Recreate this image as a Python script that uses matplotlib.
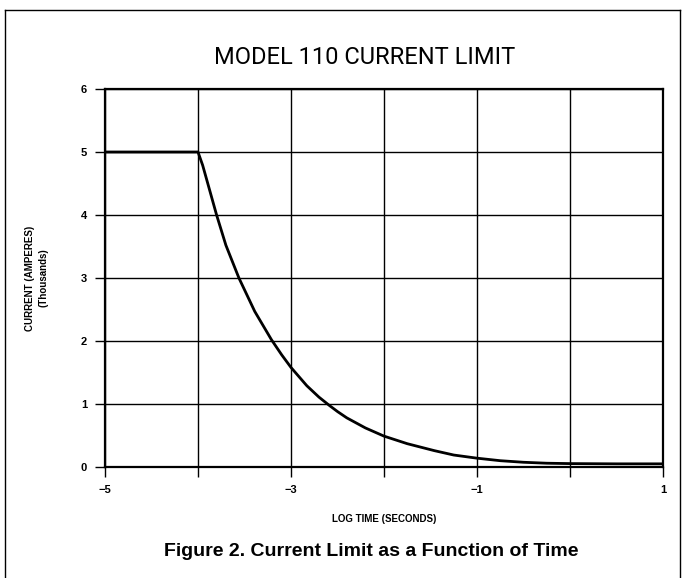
import matplotlib
matplotlib.use("Agg")
import matplotlib.pyplot as plt
from matplotlib.lines import Line2D

# Data (log10 time in seconds, current in thousands of amperes)
log_time = [-5, -4, -3.95, -3.91, -3.80, -3.70, -3.56, -3.39, -3.21, -3.1,
            -3.0, -2.83, -2.7, -2.59, -2.5, -2.40, -2.2, -2.0, -1.75,
            -1.46, -1.25, -1.0, -0.75, -0.5, -0.25, 0.0, 0.5, 1.0]
current_k = [5, 5, 4.79, 4.58, 4.0, 3.52, 3.0, 2.47, 2.02, 1.78,
             1.58, 1.29, 1.11, 0.98, 0.88, 0.78, 0.62, 0.49, 0.37,
             0.26, 0.19, 0.14, 0.10, 0.075, 0.06, 0.054, 0.05, 0.05]

x_ticks = [-5, -3, -1, 1]
x_grid = [-5, -4, -3, -2, -1, 0, 1]
y_ticks = [0, 1, 2, 3, 4, 5, 6]

W, H = 686, 578
fig = plt.figure(figsize=(W / 100, H / 100), dpi=100)
fig.patch.set_facecolor("white")

ax = fig.add_axes([105 / W, 1 - 467 / H, (663 - 105) / W, (467 - 89) / H])
ax.set_xlim(-5, 1)
ax.set_ylim(0, 6)

ax.plot(log_time, current_k, color="black", lw=2.0, solid_joinstyle="round",
        solid_capstyle="round", zorder=3)

ax.set_xticks(x_grid)
ax.set_xticklabels([str(t).replace("-", "\u2212") if t in x_ticks else "" for t in x_grid])
ax.set_yticks(y_ticks)
ax.set_yticklabels([str(t) for t in y_ticks])
ax.grid(True, color="black", lw=1.0)
ax.tick_params(axis="both", direction="out", length=7, width=1.0,
               colors="black", pad=6)
for lab in ax.get_xticklabels() + ax.get_yticklabels():
    lab.set_fontweight("bold")
    lab.set_fontsize(8)
    lab.set_family("Liberation Sans")
for s in ax.spines.values():
    s.set_linewidth(1.6)
    s.set_color("black")

ax.set_xlabel("LOG TIME (SECONDS)", fontsize=7, fontweight="bold",
              family="Liberation Sans", labelpad=14)
fig.text(30 / W, 1 - 278 / H, "CURRENT (AMPERES)", rotation=90, ha="center",
         va="center", fontsize=7, fontweight="bold", family="Liberation Sans")
fig.text(43 / W, 1 - 278 / H, "(Thousands)", rotation=90, ha="center",
         va="center", fontsize=7, fontweight="bold", family="Liberation Sans")

fig.text(365 / W, 1 - 57 / H, "MODEL 110 CURRENT LIMIT", ha="center",
         va="center", fontsize=17, family="Roboto", fontweight="normal")
fig.text(371 / W, 1 - 551 / H, "Figure 2. Current Limit as a Function of Time",
         ha="center", va="center", fontsize=14, fontweight="bold",
         family="Liberation Sans")

# outer frame
for xs, ys in [([5, 680], [10, 10]), ([5, 5], [10, 577]), ([680, 680], [10, 577])]:
    fig.add_artist(Line2D([x / W for x in xs], [1 - y / H for y in ys],
                          color="black", lw=1.0, transform=fig.transFigure))

fig.savefig("out.png", dpi=100)
